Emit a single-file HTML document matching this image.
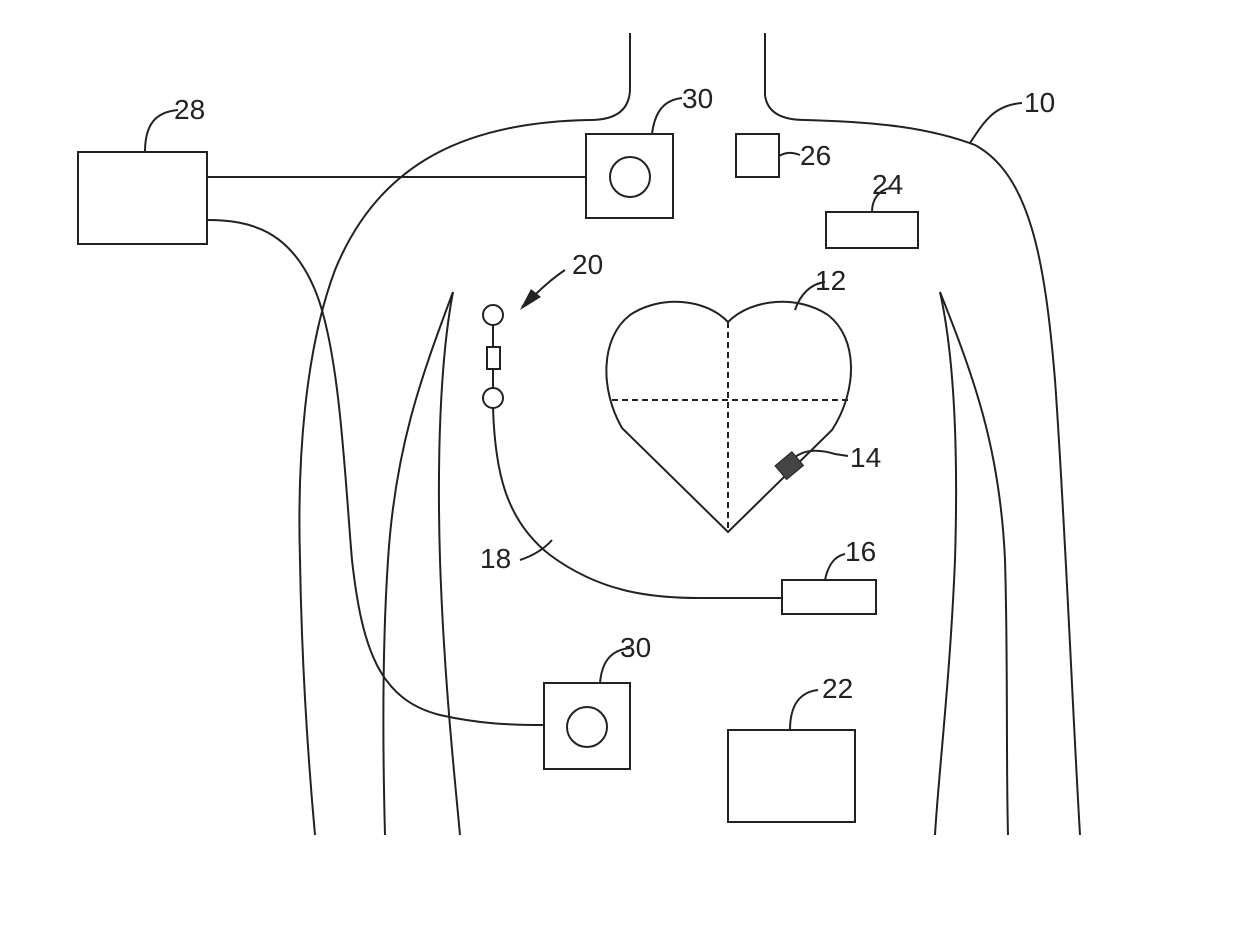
<!DOCTYPE html>
<html><head><style>
html,body{margin:0;padding:0;background:#fff;width:1240px;height:928px;overflow:hidden}
svg text{font-family:"Liberation Sans",sans-serif;font-size:28px;fill:#222}
</style></head><body>
<svg width="1240" height="928" viewBox="0 0 1240 928" xmlns="http://www.w3.org/2000/svg">
<g fill="none" stroke="#222" stroke-width="2">
<path d="M630,33 L630,88 Q630,120 590,120 C470,122 380,160 335,270 C305,350 297,460 300,560 C302,680 310,780 315,835"/>
<path d="M765,33 L765,95 Q768,120 805,120 C880,122 930,128 975,145 C1030,175 1045,260 1055,380 C1065,520 1072,700 1080,835"/>
<path d="M453,292 C420,380 395,450 388,560 C382,650 383,760 385,835"/>
<path d="M453,292 C440,360 437,460 440,560 C444,680 455,780 460,835"/>
<path d="M940,292 C975,380 1000,450 1005,560 C1008,660 1006,760 1008,835"/>
<path d="M940,292 C955,360 958,460 955,560 C950,680 938,780 935,835"/>
<rect x="78" y="152" width="129" height="92"/>
<path d="M207,177 L586,177"/>
<path d="M207,220 C250,220 290,230 315,290 C340,350 345,480 352,560 C362,650 380,700 440,715 C480,724 510,725 544,725"/>
<rect x="586" y="134" width="87" height="84"/>
<circle cx="630" cy="177" r="20"/>
<rect x="736" y="134" width="43" height="43"/>
<rect x="826" y="212" width="92" height="36"/>
<path d="M728,322 C705,298 660,295 630,315 C600,338 600,390 622,428 L728,532 L832,430 C858,390 858,338 828,315 C798,295 752,298 728,322 Z"/>
<path d="M728,322 L728,532 M612,400 L850,400" stroke-dasharray="6,4"/>
<circle cx="493" cy="315" r="10"/>
<line x1="493" y1="325" x2="493" y2="347"/>
<rect x="487" y="347" width="13" height="22"/>
<line x1="493" y1="369" x2="493" y2="388"/>
<circle cx="493" cy="398" r="10"/>
<path d="M493,408 C495,470 505,520 550,555 C600,592 650,598 700,598 L782,598"/>
<rect x="782" y="580" width="94" height="34"/>
<rect x="544" y="683" width="86" height="86"/>
<circle cx="587" cy="727" r="20"/>
<rect x="728" y="730" width="127" height="92"/>
<path d="M145,152 C145,125 155,112 178,110"/>
<path d="M652,134 C655,110 665,100 682,98"/>
<path d="M779,156 C786,152 792,152 800,155"/>
<path d="M872,212 C872,198 880,190 890,188"/>
<path d="M970,143 C985,120 995,105 1022,103"/>
<path d="M795,310 C800,295 810,284 825,282"/>
<path d="M825,580 C828,565 835,556 845,554"/>
<path d="M600,683 C602,660 612,650 630,648"/>
<path d="M790,730 C790,705 800,692 818,690"/>
<path d="M520,560 C535,555 545,548 552,540"/>
<path d="M790,462 C800,450 815,448 835,454 L848,456"/>
<path d="M522,307 C540,290 550,280 565,270"/>
</g>
<path d="M520,310 L531,289 L541,297 Z" fill="#222"/>
<g transform="rotate(-40 790 465)"><rect x="778" y="456" width="22" height="18" fill="#444" stroke="#222" stroke-width="1"/></g>
<text x="174" y="119">28</text>
<text x="682" y="108">30</text>
<text x="800" y="165">26</text>
<text x="872" y="194">24</text>
<text x="1024" y="112">10</text>
<text x="572" y="274">20</text>
<text x="815" y="290">12</text>
<text x="850" y="467">14</text>
<text x="845" y="561">16</text>
<text x="480" y="568">18</text>
<text x="620" y="657">30</text>
<text x="822" y="698">22</text>
</svg>
</body></html>
